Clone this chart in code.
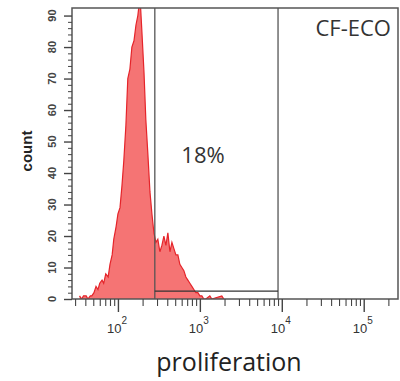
<!DOCTYPE html>
<html>
<head>
<meta charset="utf-8">
<script src="https://cdn.jsdelivr.net/npm/d3@7"></script>
<style>
  body { margin: 0; background: #fff; }
  svg { display: block; }
</style>
</head>
<body>
<div id="chart"></div>
<script>
// histogram: channel intensity and event count
const binValues = [34, 36, 38, 41, 43, 46, 48, 51, 54, 57, 60, 64, 67, 71, 76, 80, 85, 89, 95,
  100, 106, 112, 118, 125, 132, 140, 148, 157, 166, 175, 186, 196, 208, 219, 232, 246, 260, 275,
  291, 307, 325, 344, 364, 385, 407, 431, 456, 482, 510, 539, 570, 603, 638, 675, 714, 755, 799,
  845, 894, 946, 1000, 1058, 1119, 1183, 1324, 1400, 1853, 1963];
const binCounts = [1, 0, 1, 1, 0, 1, 1, 2, 4, 3, 5, 6, 5, 8, 7, 11, 14, 19, 23,
  27, 29, 36, 44, 55, 70, 73, 80, 82, 87, 90, 96, 85, 72, 57, 46, 34, 27, 21,
  18, 19, 15, 17, 20, 17, 21, 15, 18, 16, 14, 14, 11, 10, 9, 7, 6, 5, 4,
  3, 2, 2, 1, 1, 0, 0, 1, 0, 1, 0];

const xMajorTicks = [100, 1000, 10000, 100000];
const xTickExponents = ["2", "3", "4", "5"];
const yMajorTicks = [0, 10, 20, 30, 40, 50, 60, 70, 80, 90];

const gateLow = 282;
const gateHigh = 9000;
const gateLevel = 2.5;
const gateLabel = "18%";
const sampleName = "CF-ECO";

const width = 400;
const height = 381;
const margin = { top: 8, right: 2, bottom: 82, left: 72 };

const svg = d3
  .select("#chart")
  .append("svg")
  .attr("width", width)
  .attr("height", height);

const x = d3
  .scaleLog()
  .domain([27.5, 262144])
  .range([margin.left, width - margin.right]);

const y = d3
  .scaleLinear()
  .domain([0, 92.4])
  .range([height - margin.bottom, margin.top]);

const textColour = "#333";
const frameColour = "#555";

svg
  .append("clipPath")
  .attr("id", "plot-clip")
  .append("rect")
  .attr("x", margin.left)
  .attr("y", margin.top)
  .attr("width", width - margin.left - margin.right)
  .attr("height", height - margin.top - margin.bottom);

// histogram
const histData = binValues.map((v, i) => ({ v: v, c: binCounts[i] }));

const area = d3
  .area()
  .x((d) => x(d.v))
  .y0(y(0))
  .y1((d) => y(d.c));

const line = d3
  .line()
  .x((d) => x(d.v))
  .y((d) => y(d.c));

const histGroup = svg.append("g").attr("clip-path", "url(#plot-clip)");

histGroup
  .append("path")
  .datum(histData)
  .attr("d", area)
  .attr("fill", "#f57474");

histGroup
  .append("path")
  .datum(histData)
  .attr("d", line)
  .attr("fill", "none")
  .attr("stroke", "#e5242a")
  .attr("stroke-width", 1.2);

// gate
svg
  .append("g")
  .selectAll("line")
  .data([gateLow, gateHigh])
  .enter()
  .append("line")
  .attr("x1", (d) => x(d))
  .attr("x2", (d) => x(d))
  .attr("y1", y.range()[1])
  .attr("y2", y(0))
  .attr("stroke", frameColour)
  .attr("stroke-width", 1.3);

svg
  .append("line")
  .attr("x1", x(gateLow))
  .attr("x2", x(gateHigh))
  .attr("y1", y(gateLevel))
  .attr("y2", y(gateLevel))
  .attr("stroke", "#333")
  .attr("stroke-width", 1.3);

// frame
svg
  .append("rect")
  .attr("x", margin.left)
  .attr("y", margin.top)
  .attr("width", width - margin.left - margin.right)
  .attr("height", height - margin.top - margin.bottom)
  .attr("fill", "none")
  .attr("stroke", frameColour)
  .attr("stroke-width", 1.5);

// x axis, log ticks below the frame
const xAxis = svg
  .append("g")
  .attr("transform", `translate(0,${y(0)})`)
  .call(
    d3
      .axisBottom(x)
      .tickValues(x.ticks().filter((t) => t < 262144))
      .tickSize(7)
      .tickFormat("")
  );
xAxis.select(".domain").remove();
xAxis.selectAll(".tick line").attr("stroke", "#444").attr("stroke-width", 1.1);
xAxis
  .selectAll(".tick")
  .filter((d) => xMajorTicks.includes(d))
  .select("line")
  .attr("y2", 13)
  .attr("stroke-width", 1.4);

const xLabels = svg
  .append("g")
  .selectAll("text")
  .data(xMajorTicks)
  .enter()
  .append("text")
  .attr("x", (d) => x(d) - 11)
  .attr("y", y(0) + 34)
  .attr("text-anchor", "start")
  .style("font-family", "Liberation Sans, Arial, sans-serif")
  .style("font-size", "13px")
  .style("fill", textColour);
xLabels.append("tspan").text("10");
xLabels
  .append("tspan")
  .attr("dy", -9)
  .style("font-size", "10px")
  .text((d, i) => xTickExponents[i]);

// y axis
const yAxis = svg
  .append("g")
  .attr("transform", `translate(${margin.left},0)`)
  .call(
    d3
      .axisLeft(y)
      .tickValues(d3.range(0, 92, 2))
      .tickSize(4)
      .tickFormat("")
  );
yAxis.select(".domain").remove();
yAxis.selectAll(".tick line").attr("stroke", "#444");
yAxis
  .selectAll(".tick")
  .filter((d) => yMajorTicks.includes(d))
  .select("line")
  .attr("x2", -8)
  .attr("stroke-width", 1.4);

svg
  .append("g")
  .selectAll("text")
  .data(yMajorTicks)
  .enter()
  .append("text")
  .attr("transform", (d) => `translate(56,${y(d)}) rotate(-90)`)
  .attr("text-anchor", "middle")
  .style("font-family", "Liberation Sans, Arial, sans-serif")
  .style("font-size", "11px")
  .style("font-weight", "bold")
  .style("fill", "#444")
  .text((d) => d);

// axis titles
svg
  .append("text")
  .attr("transform", `translate(32,151) rotate(-90)`)
  .attr("text-anchor", "middle")
  .style("font-family", "Liberation Sans, Arial, sans-serif")
  .style("font-size", "15px")
  .style("font-weight", "bold")
  .style("fill", "#222")
  .text("count");

svg
  .append("text")
  .attr("x", 229)
  .attr("y", 371)
  .attr("text-anchor", "middle")
  .style("font-family", "Open Sans, sans-serif")
  .style("font-size", "25px")
  .style("fill", "#222")
  .text("proliferation");

// gate label and sample name
svg
  .append("text")
  .attr("x", 203)
  .attr("y", 163)
  .attr("text-anchor", "middle")
  .style("font-family", "Open Sans, sans-serif")
  .style("font-size", "22px")
  .style("fill", textColour)
  .text(gateLabel);

svg
  .append("text")
  .attr("x", 391)
  .attr("y", 36)
  .attr("text-anchor", "end")
  .style("font-family", "Open Sans, sans-serif")
  .style("font-size", "22px")
  .style("fill", textColour)
  .text(sampleName);
</script>
</body>
</html>
